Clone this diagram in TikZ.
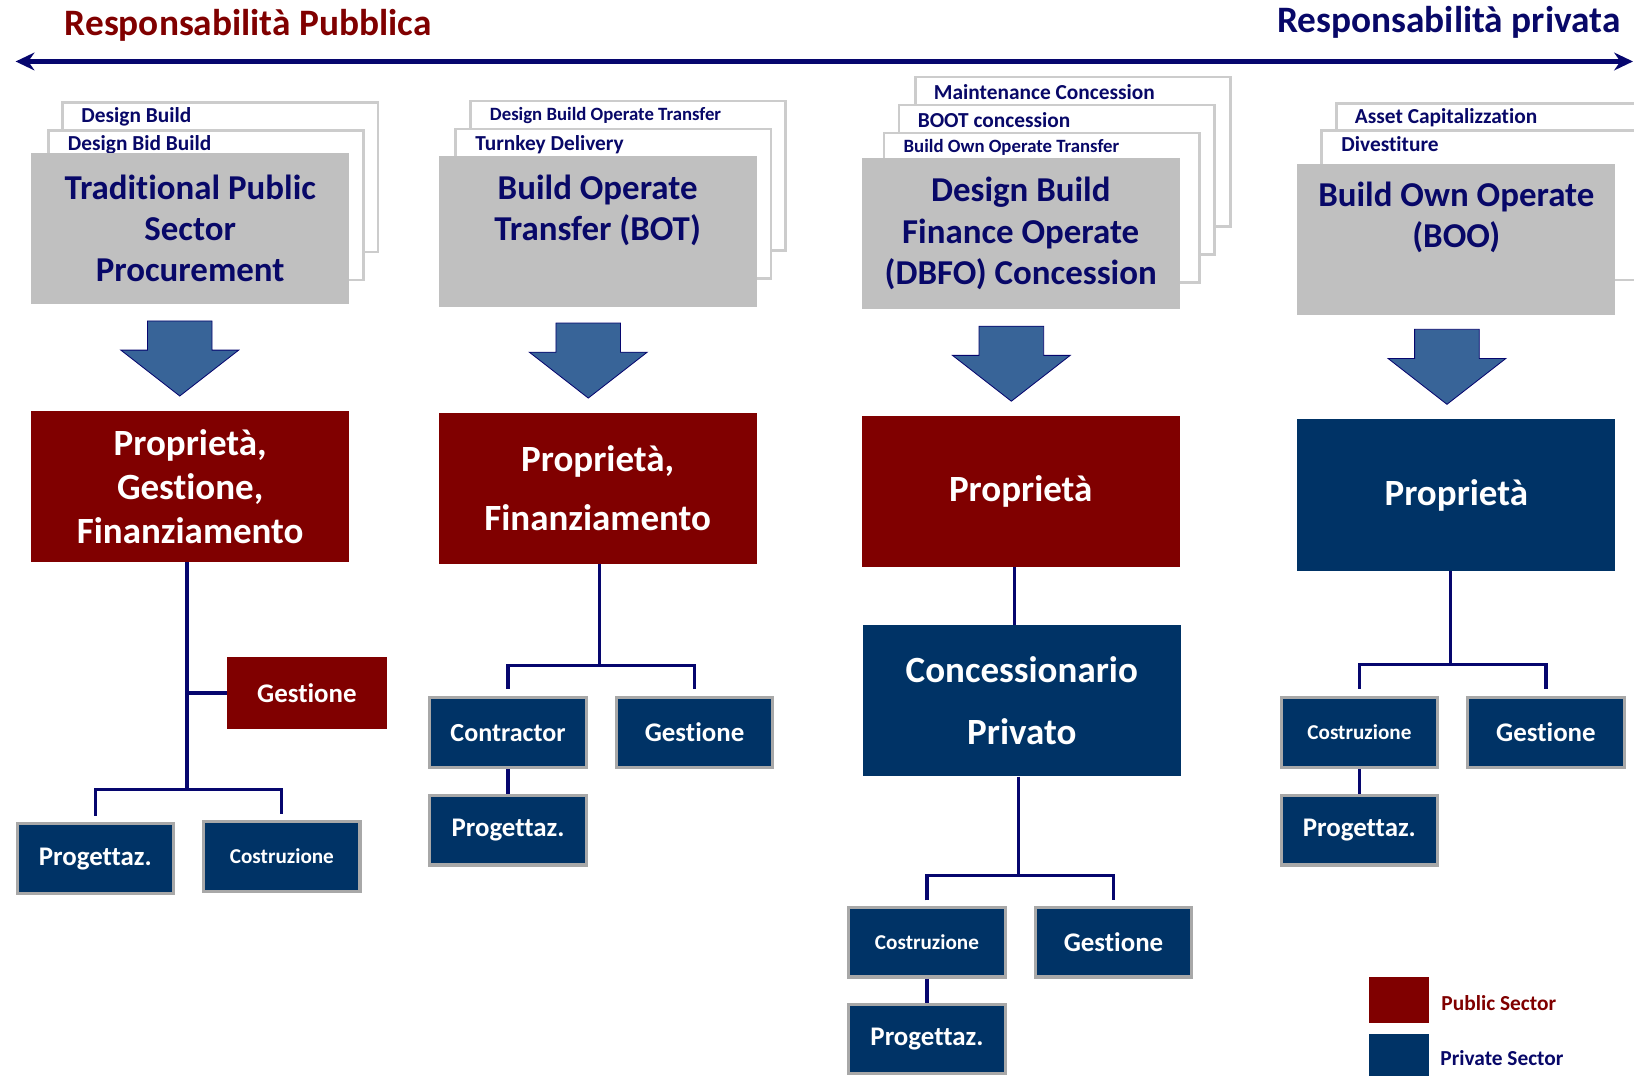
\documentclass[tikz,border=0pt]{standalone}
\usepackage{fontspec}
\setmainfont{Carlito}[Ligatures=NoCommon]
\usetikzlibrary{calc,arrows.meta}

\definecolor{rossoscuro}{RGB}{128,0,0}
\definecolor{blunotte}{RGB}{0,51,102}
\definecolor{blutesto}{RGB}{8,8,104}
\definecolor{blulinea}{RGB}{6,6,110}
\definecolor{grigio}{RGB}{192,192,192}
\definecolor{bordo}{RGB}{168,168,168}
\definecolor{bordochiaro}{RGB}{204,204,204}
\definecolor{frecciablu}{RGB}{56,100,152}

\tikzset{
  scheda/.style={draw=bordochiaro, line width=2.5pt, fill=white,
    minimum width=302.5pt, minimum height=143.5pt, inner sep=0pt},
  voce/.style={anchor=west, inner sep=0pt, text=blutesto,
    font=\fontsize{20.5}{23}\selectfont\bfseries},
  vocepiccola/.style={voce, font=\fontsize{18}{21}\selectfont\bfseries},
  modello/.style={fill=grigio, minimum width=305pt, minimum height=145pt,
    inner sep=0pt, align=center, text=blutesto,
    font=\fontsize{33.5}{39.5}\selectfont\bfseries},
  pubblico/.style={fill=rossoscuro, minimum width=305pt, minimum height=145pt,
    inner sep=0pt, align=center, text=white,
    font=\fontsize{35.5}{42.5}\selectfont\bfseries},
  privato/.style={pubblico, fill=blunotte},
  ruolo/.style={draw=bordo, line width=3pt, fill=blunotte, minimum width=150pt,
    minimum height=67pt, inner sep=0pt, text=white,
    font=\fontsize{25.8}{30}\selectfont\bfseries},
  ruolopiccolo/.style={ruolo, font=\fontsize{20.3}{23}\selectfont\bfseries},
  linea/.style={draw=blulinea, line width=3pt},
  freccia/.style={fill=frecciablu, draw=blulinea, line width=0.8pt},
  titolo/.style={inner sep=0pt, font=\fontsize{35.8}{42}\selectfont\bfseries}
}

\begin{document}
\begin{tikzpicture}[x=1pt,y=-1pt]
        \useasboundingbox (0,0) rectangle (1568,1032);
        \clip (0,0) rectangle (1568,1032);

        % titoli e freccia
        \node[titolo, text=rossoscuro, anchor=base west] (pubblica) at (62,34) {Responsabilità Pubblica};
        \node[titolo, text=blutesto, anchor=base east] (privata) at (1555,31.5) {Responsabilità privata};
        \coordinate (sinistra) at (15,59);
        \coordinate (destra) at (1567,59);
        \draw[blulinea, line width=4.5pt, {Stealth[length=18pt,width=17pt]}-{Stealth[length=18pt,width=17pt]}] (sinistra) -- (destra);

        % colonna 1
        \node[scheda] (r1a) at (211.5,170) {};
        \node[voce] (t1a) at ($(r1a.north west)+(19,15)$) {Design Build};
        \node[scheda] (r1b) at (197.5,197) {};
        \node[voce] (t1b) at ($(r1b.north west)+(20,15)$) {Design Bid Build};
        \node[modello] (tpsp) at (182.5,219) {Traditional Public\\Sector\\Procurement};
        \coordinate (f1) at (172.5,308);
        \filldraw[freccia] (f1) ++(-31,0) -- ++(62,0) -- ++(0,28) -- ++(25.5,0) -- ++(-56.5,44) -- ++(-56.5,-44) -- ++(25.5,0) -- cycle;
        \node[pubblico] (rosso1) at (182.5,467) {Proprietà,\\Gestione,\\Finanziamento};
        \node[pubblico, minimum width=153pt, minimum height=70pt,
          font=\fontsize{25.8}{30}\selectfont\bfseries] (gest1) at (294.5,665) {Gestione};
        \node[ruolo] (prog1) at (91.5,824) {Progettaz.};
        \node[ruolopiccolo] (costr1) at (270.5,822) {Costruzione};
        \coordinate (bivio1) at ($(rosso1.south)+(-3,218)$);
        \draw[linea] ($(rosso1.south)+(-3,0)$) -- (bivio1);
        \draw[linea] (gest1.west) -- (gest1.west -| bivio1);
        \draw[linea] ([yshift=6pt]prog1.north) |- (bivio1) -| ([yshift=6pt]costr1.north);

        % colonna 2
        \node[scheda] (r2a) at (602.5,168.5) {};
        \node[vocepiccola] (t2a) at ($(r2a.north west)+(20,15)$) {Design Build Operate Transfer};
        \node[scheda] (r2b) at (588.5,195.5) {};
        \node[voce] (t2b) at ($(r2b.north west)+(20,16)$) {Turnkey Delivery};
        \node[modello, text depth=46pt] (bot) at (573.5,222.5) {Build Operate\\Transfer (BOT)};
        \coordinate (f2) at (564.5,310);
        \filldraw[freccia] (f2) ++(-31,0) -- ++(62,0) -- ++(0,28) -- ++(25.5,0) -- ++(-56.5,44) -- ++(-56.5,-44) -- ++(25.5,0) -- cycle;
        \node[pubblico, font=\fontsize{35.5}{56}\selectfont\bfseries] (rosso2) at (573.5,468.5) {Proprietà,\\Finanziamento};
        \node[ruolo, font=\fontsize{25}{28}\selectfont\bfseries] (contr) at (487.5,703) {Contractor};
        \node[ruolo] (gest2) at (666.5,703) {Gestione};
        \node[ruolo] (prog2) at (487.5,796.5) {Progettaz.};
        \coordinate (bivio2) at ($(rosso2.south)+(1.5,97)$);
        \draw[linea] ($(rosso2.south)+(1.5,0)$) -- (bivio2);
        \draw[linea] ([yshift=7pt]contr.north) |- (bivio2) -| ([yshift=7pt]gest2.north);
        \draw[linea] (contr.south) -- (prog2.north);

        % colonna 3
        \node[scheda] (r3a) at (1029.5,145.5) {};
        \node[voce] (t3a) at ($(r3a.north west)+(19,16)$) {Maintenance Concession};
        \node[scheda] (r3b) at (1014,172.5) {};
        \node[voce] (t3b) at ($(r3b.north west)+(19,16)$) {BOOT concession};
        \node[scheda] (r3c) at (999.5,199.5) {};
        \node[vocepiccola] (t3c) at ($(r3c.north west)+(20,15)$) {Build Own Operate Transfer};
        \node[modello] (dbfo) at (979.5,224) {Design Build\\Finance Operate\\(DBFO) Concession};
        \coordinate (f3) at (970.5,313);
        \filldraw[freccia] (f3) ++(-31,0) -- ++(62,0) -- ++(0,28) -- ++(25.5,0) -- ++(-56.5,44) -- ++(-56.5,-44) -- ++(25.5,0) -- cycle;
        \node[pubblico] (rosso3) at (979.5,471.5) {Proprietà};
        \node[privato, font=\fontsize{35.5}{60}\selectfont\bfseries] (conc) at (980.5,672.5) {Concessionario\\Privato};
        \node[ruolopiccolo] (costr3) at (889.5,904) {Costruzione};
        \node[ruolo] (gest3) at (1068.5,904) {Gestione};
        \node[ruolo] (prog3) at (889.5,997) {Progettaz.};
        \draw[linea] ($(rosso3.south)+(-6,0)$) -- ($(conc.north)+(-7,0)$);
        \coordinate (bivio3) at ($(conc.south)+(-3.5,95)$);
        \draw[linea] (conc.south -| bivio3) -- (bivio3);
        \draw[linea] ([yshift=5pt]costr3.north) |- (bivio3) -| ([yshift=5pt]gest3.north);
        \draw[linea] (costr3.south) -- (prog3.north);

        % colonna 4
        \node[scheda] (r4a) at (1433.5,171) {};
        \node[voce] (t4a) at ($(r4a.north west)+(19,15)$) {Asset Capitalizzation};
        \node[scheda] (r4b) at (1419.5,197) {};
        \node[voce] (t4b) at ($(r4b.north west)+(20,14)$) {Divestiture};
        \node[modello, text depth=47pt] (boo) at (1397.5,229.5) {Build Own Operate\\(BOO)};
        \coordinate (f4) at (1388.5,316);
        \filldraw[freccia] (f4) ++(-31,0) -- ++(62,0) -- ++(0,28) -- ++(25.5,0) -- ++(-56.5,44) -- ++(-56.5,-44) -- ++(25.5,0) -- cycle;
        \node[privato] (blu4) at (1397.5,475) {Proprietà};
        \node[ruolopiccolo] (costr4) at (1304.5,703) {Costruzione};
        \node[ruolo] (gest4) at (1483.5,703) {Gestione};
        \node[ruolo] (prog4) at (1304.5,796.5) {Progettaz.};
        \coordinate (bivio4) at ($(blu4.south)+(-5.5,90)$);
        \draw[linea] (blu4.south -| bivio4) -- (bivio4);
        \draw[linea] ([yshift=7pt]costr4.north) |- (bivio4) -| ([yshift=7pt]gest4.north);
        \draw[linea] (costr4.south) -- (prog4.north);

        % legenda
        \node[fill=rossoscuro, minimum width=57pt, minimum height=44pt, inner sep=0pt] (legpub) at (1342.5,960) {};
        \node[voce, text=rossoscuro] (legpubtesto) at (1383,963) {Public Sector};
        \node[fill=blunotte, minimum width=57pt, minimum height=44pt, inner sep=0pt] (legpriv) at (1342.5,1014) {};
        \node[voce] (legprivtesto) at (1382,1015) {Private Sector};
    \end{tikzpicture}
\end{document}
